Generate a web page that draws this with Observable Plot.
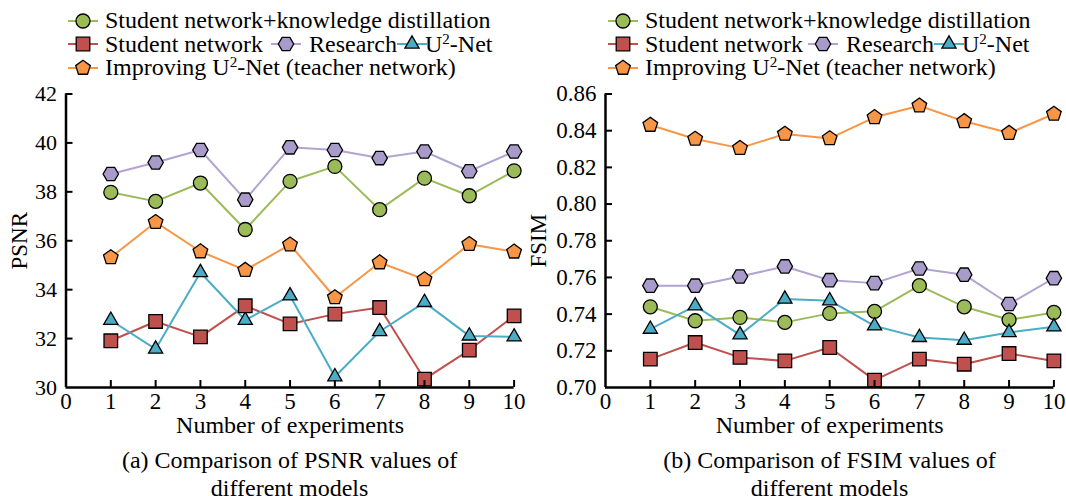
<!DOCTYPE html>
<html><head><meta charset="utf-8">
<script src="https://cdn.jsdelivr.net/npm/d3@7"></script>
<script src="https://cdn.jsdelivr.net/npm/@observablehq/plot@0.6"></script>
<style>
body{margin:0;background:#fff;}
#page{position:relative;width:1066px;height:496px;overflow:hidden;font-family:"Liberation Serif","Times New Roman",serif;color:#000;background:#fff;}
.col{position:absolute;top:0;width:533px;height:496px;}
.col svg{overflow:visible;position:absolute;left:0;top:0;}
.sym{position:absolute;}
.txt{position:absolute;font-size:24px;line-height:18px;white-space:nowrap;}
.txt .sp{font-size:15px;line-height:0;vertical-align:8px;}
.cap{position:absolute;font-size:24px;line-height:28px;text-align:center;white-space:nowrap;transform:translateX(-50%);}
</style></head>
<body><div id="page"><div class="col" id="colA" style="left:0"></div><div class="col" id="colB" style="left:533px"></div></div>
<script>
// ---------- data ----------
const experiments = [1,2,3,4,5,6,7,8,9,10];
const xTicks = [0,1,2,3,4,5,6,7,8,9,10];
const seriesNames = ["Student network+knowledge distillation","Student network","Research","U<span class=\"sp\">2</span>-Net","Improving U<span class=\"sp\">2</span>-Net (teacher network)"];

const psnrDistill  = [37.98,37.61,38.36,36.46,38.43,39.04,37.27,38.56,37.84,38.86];
const psnrStudent  = [31.91,32.70,32.07,33.34,32.60,33.00,33.27,30.34,31.53,32.93];
const psnrResearch = [38.73,39.20,39.71,37.68,39.82,39.71,39.38,39.65,38.84,39.65];
const psnrU2Net    = [32.75,31.57,34.70,32.75,33.75,30.44,32.29,33.48,32.11,32.07];
const psnrTeacher  = [35.32,36.76,35.56,34.80,35.84,33.68,35.11,34.42,35.86,35.55];
const psnrTicks = [30,32,34,36,38,40,42];

const fsimDistill  = [0.7440,0.7364,0.7382,0.7355,0.7404,0.7415,0.7555,0.7440,0.7369,0.7409];
const fsimStudent  = [0.7155,0.7245,0.7164,0.7145,0.7218,0.7040,0.7155,0.7127,0.7185,0.7145];
const fsimResearch = [0.7555,0.7555,0.7605,0.7660,0.7585,0.7569,0.7649,0.7615,0.7455,0.7596];
const fsimU2Net    = [0.7318,0.7445,0.7287,0.7482,0.7473,0.7336,0.7273,0.7258,0.7300,0.7331];
const fsimTeacher  = [0.8431,0.8355,0.8305,0.8382,0.8358,0.8473,0.8536,0.8451,0.8387,0.8491];
const fsimTicks = [0.70,0.72,0.74,0.76,0.78,0.80,0.82,0.84,0.86];

// ---------- symbols ----------
const rad = s => Math.sqrt(s / Math.PI);
const symCircle = {draw(c, s){const r = rad(s)*1.0; c.moveTo(r,0); c.arc(0,0,r,0,2*Math.PI); c.closePath();}};
const symSquare = {draw(c, s){const h = rad(s)*0.97; c.moveTo(-h,-h); c.lineTo(h,-h); c.lineTo(h,h); c.lineTo(-h,h); c.closePath();}};
const symTriangle = {draw(c, s){const r = rad(s)*1.17; c.moveTo(0,-r); c.lineTo(r*0.866,r*0.5); c.lineTo(-r*0.866,r*0.5); c.closePath();}};
const symHexagon = {draw(c, s){const r = rad(s)*1.1; for(let i=0;i<6;i++){const a=i*Math.PI/3; const x=r*Math.cos(a), y=r*Math.sin(a); i?c.lineTo(x,y):c.moveTo(x,y);} c.closePath();}};
const symPentagon = {draw(c, s){const r = rad(s)*1.1; for(let i=0;i<5;i++){const a=-Math.PI/2+i*2*Math.PI/5; const x=r*Math.cos(a), y=r*Math.sin(a); i?c.lineTo(x,y):c.moveTo(x,y);} c.closePath();}};

const styles = [
  {fill:"#9BBB59", line:"#9BBB59", symbol:symCircle},
  {fill:"#C0504D", line:"#C0504D", symbol:symSquare},
  {fill:"#A89BC9", line:"#B2A4D1", symbol:symHexagon},
  {fill:"#4BACC6", line:"#4BACC6", symbol:symTriangle},
  {fill:"#F79646", line:"#F79646", symbol:symPentagon}
];
const drawOrder = [2,0,4,3,1];
const R = 7;

const MT = 93.5, MB = 109, H = 496, W = 533;

function chart({values, yDomain, yTicks, yFmt, ml, mr, yLabel, yLabelDx, yFont}) {
  const frameW = W - ml - mr, frameH = H - MT - MB;
  const marks = [];
  values.forEach((vals, k) => {
    const data = experiments.map((x, i) => ({x, y: vals[i]}));
    marks.push(Plot.line(data, {x: "x", y: "y", stroke: styles[k].line, strokeWidth: 2}));
  });
  drawOrder.forEach(k => {
    const data = experiments.map((x, i) => ({x, y: values[k][i]}));
    marks.push(Plot.dot(data, {x: "x", y: "y", r: R, symbol: styles[k].symbol, fill: styles[k].fill, stroke: "#000", strokeWidth: 1.3}));
  });
  marks.push(Plot.tickX(xTicks.filter(d => d > 0), {x: d => d, insetTop: frameH - 7, stroke: "#000", strokeWidth: 2}));
  marks.push(Plot.tickY(yTicks.filter(d => d > yDomain[0]), {y: d => d, insetRight: frameW - 7, stroke: "#000", strokeWidth: 2}));
  marks.push(Plot.ruleY([yDomain[0]], {x1: 0, x2: 10, stroke: "#000", strokeWidth: 2.5}));
  marks.push(Plot.ruleX([0], {y1: yDomain[0], y2: yDomain[1], stroke: "#000", strokeWidth: 2.5}));
  marks.push(Plot.axisX(xTicks, {tickSize: 0, tickPadding: 5, fontSize: 23, label: null}));
  marks.push(Plot.axisY(yTicks, {tickSize: 0, tickPadding: 9, fontSize: yFont, tickFormat: yFmt, label: null}));
  marks.push(Plot.text(["Number of experiments"], {frameAnchor: "bottom", dy: 45, fontSize: 24, fill: "#000"}));
  marks.push(Plot.text([yLabel], {frameAnchor: "left", dx: yLabelDx, rotate: -90, lineAnchor: "top", textAnchor: "middle", fontSize: 23, fill: "#000"}));
  return Plot.plot({
    width: W, height: H, marginLeft: ml, marginRight: mr, marginTop: MT, marginBottom: MB,
    x: {domain: [0, 10]}, y: {domain: yDomain},
    style: {fontFamily: "'Liberation Serif','Times New Roman',serif", fontSize: "22px", color: "#000", background: "transparent", overflow: "visible"},
    marks
  });
}

function legendSymbol(k) {
  const svg = d3.create("svg").attr("width", 30).attr("height", 20).attr("class", "sym").style("overflow", "visible");
  svg.append("line").attr("x1", 0).attr("x2", 30).attr("y1", 10).attr("y2", 10).attr("stroke", styles[k].line).attr("stroke-width", 2);
  const p = d3.path();
  styles[k].symbol.draw(p, R * R * Math.PI);
  svg.append("path").attr("d", p.toString()).attr("transform", "translate(15,10)").attr("fill", styles[k].fill).attr("stroke", "#000").attr("stroke-width", 1.3);
  return svg.node();
}

function legend(col, items) {
  const baselines = [28.5, 52, 75.3];
  items.forEach(({k, row, sx, tx}) => {
    const s = legendSymbol(k);
    s.style.left = sx + "px"; s.style.top = (baselines[row] - 7.8 - 10) + "px";
    col.appendChild(s);
    const t = document.createElement("div");
    t.className = "txt"; t.innerHTML = seriesNames[k];
    t.style.left = tx + "px"; t.style.top = (baselines[row] - 17.1) + "px";
    col.appendChild(t);
  });
}

function caption(col, cx, html) {
  const d = document.createElement("div");
  d.className = "cap"; d.innerHTML = html;
  d.style.left = cx + "px"; d.style.top = "445.8px";
  col.appendChild(d);
}

const colA = document.getElementById("colA");
const colB = document.getElementById("colB");

colA.appendChild(chart({values: [psnrDistill, psnrStudent, psnrResearch, psnrU2Net, psnrTeacher], yDomain: [30, 42], yTicks: psnrTicks, yFmt: d3.format("d"), ml: 65.5, mr: 19.4, yLabel: "PSNR", yLabelDx: -55.5, yFont: 22}));
colB.appendChild(chart({values: [fsimDistill, fsimStudent, fsimResearch, fsimU2Net, fsimTeacher], yDomain: [0.70, 0.86], yTicks: fsimTicks, yFmt: d3.format(".2f"), ml: 72, mr: 12.6, yLabel: "FSIM", yLabelDx: -76, yFont: 23}));

legend(colA, [
  {k: 0, row: 0, sx: 68, tx: 105},
  {k: 1, row: 1, sx: 68, tx: 105},
  {k: 2, row: 1, sx: 271, tx: 309},
  {k: 3, row: 1, sx: 397, tx: 425},
  {k: 4, row: 2, sx: 68, tx: 105}
]);
legend(colB, [
  {k: 0, row: 0, sx: 75, tx: 112},
  {k: 1, row: 1, sx: 75, tx: 112},
  {k: 2, row: 1, sx: 275, tx: 313},
  {k: 3, row: 1, sx: 401, tx: 429},
  {k: 4, row: 2, sx: 75, tx: 112}
]);
caption(colA, 289.6, "(a) Comparison of PSNR values of<br>different models");
caption(colB, 296.5, "(b) Comparison of FSIM values of<br>different models");
</script></body></html>
